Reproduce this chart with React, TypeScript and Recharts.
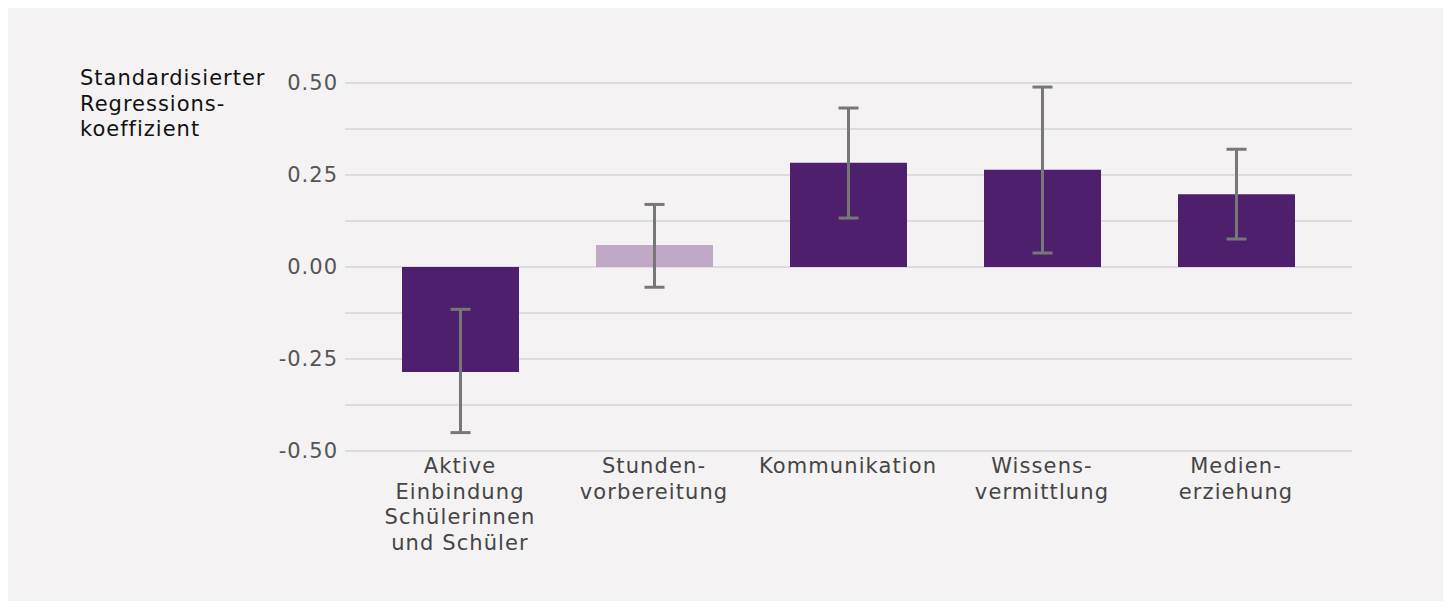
import { BarChart, Bar, XAxis, YAxis, CartesianGrid, ErrorBar, Cell } from 'recharts'

const categories = [
  ['Aktive', 'Einbindung', 'Schülerinnen', 'und Schüler'],
  ['Stunden-', 'vorbereitung'],
  ['Kommunikation'],
  ['Wissens-', 'vermittlung'],
  ['Medien-', 'erziehung'],
]
const coef = [-0.285, 0.06, 0.283, 0.264, 0.198]
const lower = [-0.45, -0.055, 0.133, 0.038, 0.076]
const upper = [-0.115, 0.17, 0.432, 0.489, 0.32]
const significant = [true, false, true, true, true]
const yTicks = [-0.5, -0.375, -0.25, -0.125, 0, 0.125, 0.25, 0.375, 0.5]
const titleLines = ['Standardisierter', 'Regressions-', 'koeffizient']

const DARK = '#4e1f6c'
const LIGHT = '#bfa9c7'
const FONT = '"DejaVu Sans", sans-serif'

const data = categories.map((c, i) => ({
  name: c.join(' '),
  lines: c,
  value: coef[i],
  err: [coef[i] - lower[i], upper[i] - coef[i]],
}))

function CatTick({ x, y, payload }: any) {
  const lines = data[payload.index]?.lines ?? [payload.value]
  return (
    <text x={x} y={y} textAnchor="middle" fill="#454545" fontSize={21} letterSpacing={1.1} fontFamily={FONT}>
      {lines.map((l: string, i: number) => (
        <tspan key={i} x={x} dy={i === 0 ? 14 : 25.5}>{l}</tspan>
      ))}
    </text>
  )
}

export default function App() {
  return (
    <div style={{ position: 'relative', width: 1437, height: 601, background: '#f4f2f3', marginBottom: -8 }}>
      <div style={{ position: 'absolute', left: 72, top: 58, fontFamily: FONT, fontSize: 21, letterSpacing: 1, lineHeight: '25.5px', color: '#111' }}>
        {titleLines.map((t, i) => <div key={i}>{t}</div>)}
      </div>
      <BarChart
        width={1437}
        height={601}
        data={data}
        margin={{ top: 75, right: 93, bottom: 128, left: 0 }}
        barSize={117}
      >
        <CartesianGrid vertical={false} stroke="#d6d4d6" strokeWidth={1.5} />
        <XAxis
          dataKey="name"
          axisLine={false}
          tickLine={false}
          interval={0}
          padding={{ left: 18, right: 19 }}
          tick={<CatTick />}
        />
        <YAxis
          domain={[-0.5, 0.5]}
          ticks={yTicks}
          width={337}
          axisLine={false}
          tickLine={false}
          tickMargin={1}
          tick={{ fill: '#555', fontSize: 21, letterSpacing: 1, fontFamily: FONT }}
          tickFormatter={(v: number) => (Math.abs(v * 4 - Math.round(v * 4)) < 1e-6 ? v.toFixed(2) : '')}
        />
        <Bar dataKey="value" isAnimationActive={false}>
          {data.map((_, i) => (
            <Cell key={i} fill={significant[i] ? DARK : LIGHT} />
          ))}
          <ErrorBar dataKey="err" width={10} stroke="#777" strokeWidth={3} />
        </Bar>
      </BarChart>
    </div>
  )
}
